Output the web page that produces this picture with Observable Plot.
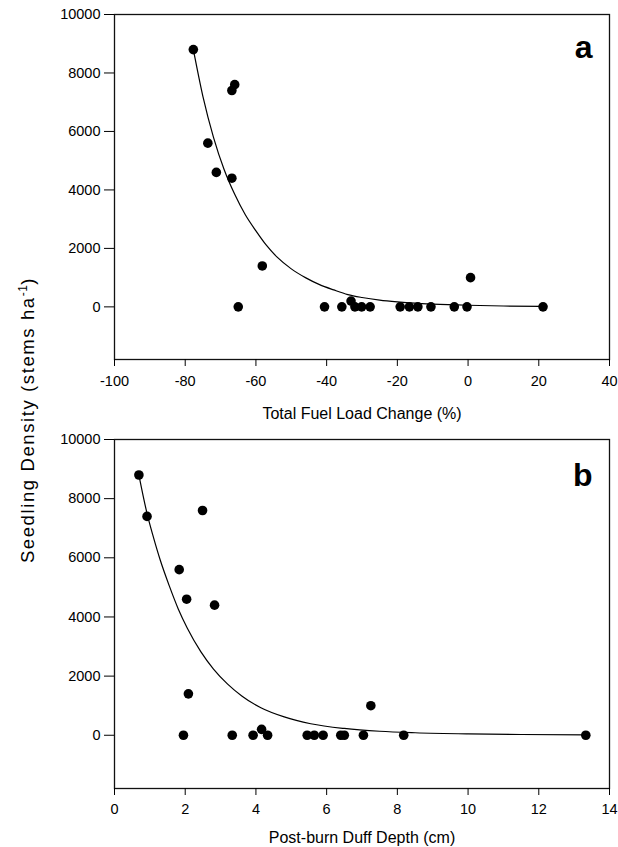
<!DOCTYPE html>
<html>
<head>
<meta charset="utf-8">
<script src="https://cdn.jsdelivr.net/npm/d3@7"></script>
<script src="https://cdn.jsdelivr.net/npm/@observablehq/plot@0.6"></script>
<style>
  html, body { margin: 0; padding: 0; background: #fff; }
  #wrap { position: relative; width: 618px; height: 847px; background: #fff; font-family: "Liberation Sans", Arial, sans-serif; }
  #wrap > svg { position: absolute; left: 0; }
</style>
</head>
<body>
<div id="wrap"></div>
<script>
// ---- Panel a: Total fuel load change (%) vs seedling density ----
const fuelChange = [-77.7, -66.0, -66.8, -73.6, -71.2, -66.8, -58.2, -65.0, -40.6, -35.7, -33.1, -32.0, -30.1, -27.7, -19.2, -16.6, -14.2, -10.5, -3.9, -0.3, 0.7, 21.2];
const densityA   = [8800, 7600, 7400, 5600, 4600, 4400, 1400, 0, 0, 0, 200, 0, 0, 0, 0, 0, 0, 0, 0, 0, 1000, 0];
// fitted curve
const curveAx = [-77.7, -75, -72, -69, -66, -63, -60, -57, -54, -50, -46, -42, -38, -34, -30, -25, -20, -15, -10, 0, 10, 21.2];
const curveAy = [8800, 7200, 5800, 4700, 3850, 3150, 2600, 2100, 1700, 1300, 1000, 760, 580, 420, 320, 230, 170, 125, 95, 55, 30, 15];

// ---- Panel b: Post-burn duff depth (cm) vs seedling density ----
const duffDepth = [0.69, 0.92, 2.49, 1.83, 2.04, 2.83, 2.09, 1.95, 3.33, 3.92, 4.16, 4.33, 5.45, 5.65, 5.9, 6.4, 6.5, 7.04, 7.25, 8.18, 13.33];
const densityB  = [8800, 7400, 7600, 5600, 4600, 4400, 1400, 0, 0, 0, 200, 0, 0, 0, 0, 0, 0, 0, 1000, 0, 0];
const curveBx = [0.69, 0.93, 1.1, 1.3, 1.55, 1.8, 2.06, 2.44, 2.8, 3.2, 3.6, 4.14, 4.8, 5.55, 6.5, 7.5, 8.5, 10, 11.5, 13.33];
const curveBy = [8800, 7450, 6700, 5900, 5050, 4280, 3620, 2830, 2240, 1730, 1330, 930, 620, 390, 230, 135, 85, 45, 25, 12];

// ---- ticks & labels ----
const xTicksA = [-100, -80, -60, -40, -20, 0, 20, 40];
const xTicksB = [0, 2, 4, 6, 8, 10, 12, 14];
const yTicks  = [0, 2000, 4000, 6000, 8000, 10000];
const xLabelA = "Total Fuel Load Change (%)";
const xLabelB = "Post-burn Duff Depth (cm)";
const yLabel  = "Seedling Density (stems ha";
const yLabelSup = "-1";
const panelLetters = ["a", "b"];

const font = "'Liberation Sans', Arial, sans-serif";
const yDomain = [-1800, 10000];
const fmt = d => String(d);

function panel(xs, ys, cx, cy, xDomain, xTicks, xLabel, letter, opts) {
  const pts = xs.map((x, i) => ({x, y: ys[i]}));
  const crv = cx.map((x, i) => ({x, y: cy[i]}));
  return Plot.plot({
    width: 618,
    height: opts.height,
    marginTop: 14,
    marginBottom: opts.height - 14 - opts.frameH,
    marginLeft: 114,
    marginRight: 9,
    style: {fontFamily: font, fontSize: "14px", color: "#000", background: "#fff", overflow: "visible"},
    x: {domain: xDomain},
    y: {domain: yDomain},
    marks: [
      Plot.frame({stroke: "#111", strokeWidth: 1.3}),
      Plot.axisY({ticks: yTicks, tickFormat: fmt, tickSize: 10, tickPadding: 4, label: null, fontSize: 14.5}),
      Plot.axisX({ticks: xTicks, tickFormat: fmt, tickSize: 7, tickPadding: opts.tickPad, fontSize: 14.5, label: null}),
      Plot.text([xLabel], {text: d => d, frameAnchor: "bottom", lineAnchor: "bottom", dy: opts.labelOffset,
                           fontSize: 16, fill: "#000"}),
      Plot.line(crv, {x: "x", y: "y", stroke: "#000", strokeWidth: 1.2, curve: "monotone-x"}),
      Plot.dot(pts, {x: "x", y: "y", r: 4.8, fill: "#000", stroke: "none"}),
      Plot.text([letter], {text: d => d, frameAnchor: "top-right", lineAnchor: "top", dx: -17, dy: opts.letterDy,
                           fontSize: 32, fontWeight: "bold", fill: "#000"})
    ]
  });
}

const wrap = document.getElementById("wrap");

const pa = panel(fuelChange, densityA, curveAx, curveAy, [-100, 40], xTicksA, xLabelA, panelLetters[0],
                 {height: 425, frameH: 345, tickPad: 9, labelOffset: 59, letterDy: 21});
pa.style.top = "0px";
wrap.appendChild(pa);

const pb = panel(duffDepth, densityB, curveBx, curveBy, [0, 14], xTicksB, xLabelB, panelLetters[1],
                 {height: 422, frameH: 349, tickPad: 8, labelOffset: 54, letterDy: 24});
pb.style.top = "425px";
wrap.appendChild(pb);

// shared y-axis title
const ns = "http://www.w3.org/2000/svg";
const ov = document.createElementNS(ns, "svg");
ov.setAttribute("width", 618); ov.setAttribute("height", 847);
ov.style.position = "absolute"; ov.style.top = "0px"; ov.style.left = "0px"; ov.style.pointerEvents = "none";
const t = document.createElementNS(ns, "text");
t.setAttribute("transform", "translate(34,420) rotate(-90)");
t.setAttribute("text-anchor", "middle");
t.setAttribute("font-family", font);
t.setAttribute("font-size", "18.5");
t.setAttribute("letter-spacing", "1.6");
t.setAttribute("fill", "#000");
t.appendChild(document.createTextNode(yLabel));
const sup = document.createElementNS(ns, "tspan");
sup.setAttribute("dy", "-7"); sup.setAttribute("font-size", "12"); sup.setAttribute("letter-spacing", "0.5");
sup.textContent = yLabelSup;
t.appendChild(sup);
const close = document.createElementNS(ns, "tspan");
close.setAttribute("dy", "7");
close.textContent = ")";
t.appendChild(close);
ov.appendChild(t);
wrap.appendChild(ov);
</script>
</body>
</html>
